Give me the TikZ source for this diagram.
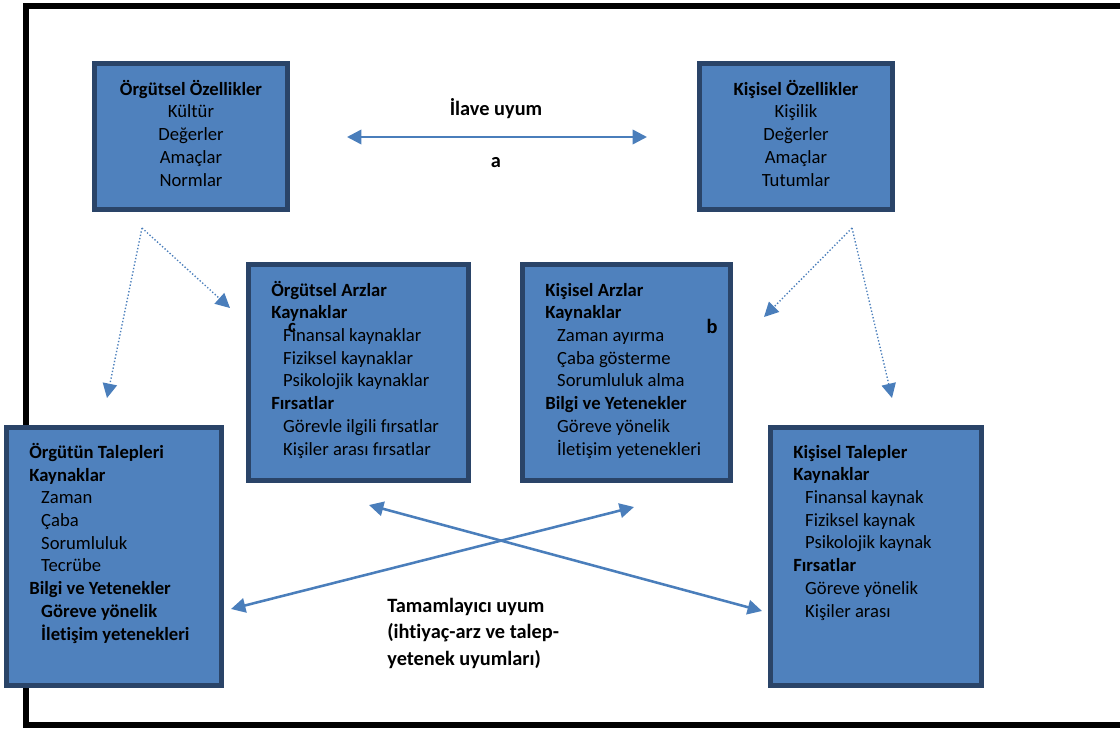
\documentclass[tikz,border=0pt]{standalone}
\usepackage{fontspec}
\setmainfont{Carlito}[Ligatures=NoCommon]
\usepackage{xcolor}
\usetikzlibrary{positioning}
\usetikzlibrary{arrows.meta}
\definecolor{kutumavi}{HTML}{4F81BD}
\definecolor{kutukenar}{HTML}{2A4468}
\definecolor{okmavi}{HTML}{4A7EBB}
\newcommand{\ic}{\hspace*{7pt}}

\begin{document}
\begin{tikzpicture}[x=0.59pt,y=-0.59pt]
  \useasboundingbox (0,0) rectangle (1120,729);
  \draw[line width=3pt] (1120,6) -- (26,6) -- (26,725) -- (1120,725);
  \begin{scope}[every node/.style={rectangle,draw=kutukenar,fill=kutumavi,line width=3pt,inner sep=0pt}]
    \node[minimum width=113.9pt,minimum height=86.1pt] (orgozel) at (191,136.5) {};
    \node[minimum width=113.9pt,minimum height=86.1pt] (kisozel) at (796,136.5) {};
    \node[minimum width=129.8pt,minimum height=127.4pt] (orgarz) at (358.5,372.5) {};
    \node[minimum width=122.7pt,minimum height=127.4pt] (kisarz) at (626.5,372.5) {};
    \node[minimum width=126.9pt,minimum height=152.2pt] (orgtalep) at (114,556.5) {};
    \node[minimum width=124.5pt,minimum height=152.2pt] (kistalep) at (876,556.5) {};
  \end{scope}
  % metin bloklari: base = son satirin taban cizgisi
  \begin{scope}[every node/.style={inner sep=0pt,font=\fontsize{11}{13.4}\selectfont,align=left,anchor=base west}]
    \node[align=center,anchor=base] (orgozelyazi) at (191,186) {\textbf{Örgütsel Özellikler}\\Kültür\\Değerler\\Amaçlar\\Normlar};
    \node[align=center,anchor=base] (kisozelyazi) at (796,186) {\textbf{Kişisel Özellikler}\\Kişilik\\Değerler\\Amaçlar\\Tutumlar};
    \node (orgarzyazi) at (271,455) {\textbf{Örgütsel Arzlar}\\\textbf{Kaynaklar}\\\ic Finansal kaynaklar\\\ic Fiziksel kaynaklar\\\ic Psikolojik kaynaklar\\\textbf{Fırsatlar}\\\ic Görevle ilgili fırsatlar\\\ic Kişiler arası fırsatlar};
    \node (kisarzyazi) at (545,455) {\textbf{Kişisel Arzlar}\\\textbf{Kaynaklar}\\\ic Zaman ayırma\\\ic Çaba gösterme\\\ic Sorumluluk alma\\\textbf{Bilgi ve Yetenekler}\\\ic Göreve yönelik\\\ic İletişim yetenekleri};
    \node (orgtalepyazi) at (29,640) {\textbf{Örgütün Talepleri}\\\textbf{Kaynaklar}\\\ic Zaman\\\ic Çaba\\\ic Sorumluluk\\\ic Tecrübe\\\textbf{Bilgi ve Yetenekler}\\\ic\textbf{Göreve yönelik}\\\ic\textbf{İletişim yetenekleri}};
    \node (kistalepyazi) at (793,617) {\textbf{Kişisel Talepler}\\\textbf{Kaynaklar}\\\ic Finansal kaynak\\\ic Fiziksel kaynak\\\ic Psikolojik kaynak\\\textbf{Fırsatlar}\\\ic Göreve yönelik\\\ic Kişiler arası};
    \node[font=\fontsize{12}{15.5}\selectfont\bfseries,anchor=base] (ilave) at (496,115) {İlave uyum};
    \node[font=\fontsize{12}{15.5}\selectfont\bfseries,anchor=base] (a) at (496,167) {a};
    \node[font=\fontsize{12}{15.5}\selectfont\bfseries,anchor=base] (b) at (712,333) {b};
    \node[font=\fontsize{11}{13.4}\selectfont\bfseries,anchor=base] (c) at (292,332) {c};
    \node[font=\fontsize{12}{15.5}\selectfont\bfseries] (tamamlayici) at (387,665) {Tamamlayıcı uyum\\(ihtiyaç-arz ve talep-\\yetenek uyumları)};
  \end{scope}
  \coordinate (ilavesol) at (347,137);
  \coordinate (ilavesag) at (647,137);
  \coordinate (orgtepe) at (142,228);
  \coordinate (orguc1) at (107,398);
  \coordinate (orguc2) at (230,308);
  \coordinate (kistepe) at (852,228);
  \coordinate (kisuc1) at (764,317);
  \coordinate (kisuc2) at (892,398);
  \coordinate (capraz1a) at (231,609);
  \coordinate (capraz1b) at (634,507);
  \coordinate (capraz2a) at (369,505);
  \coordinate (capraz2b) at (762,611);
  \begin{scope}[>={Triangle[length=8.5pt,width=8.5pt]},every path/.style={<->,draw=okmavi,line width=1.5pt}]
    \draw (ilavesol) -- (ilavesag);
    \draw (capraz1a) -- (capraz1b);
    \draw (capraz2a) -- (capraz2b);
  \end{scope}
  \begin{scope}[>={Triangle[length=8.5pt,width=8.5pt]},every path/.style={->,draw=okmavi,line width=0.8pt,dash pattern=on 0.8pt off 1.2pt}]
    \draw (orgtepe) -- (orguc1);
    \draw (orgtepe) -- (orguc2);
    \draw (kistepe) -- (kisuc1);
    \draw (kistepe) -- (kisuc2);
  \end{scope}
\end{tikzpicture}
\end{document}
